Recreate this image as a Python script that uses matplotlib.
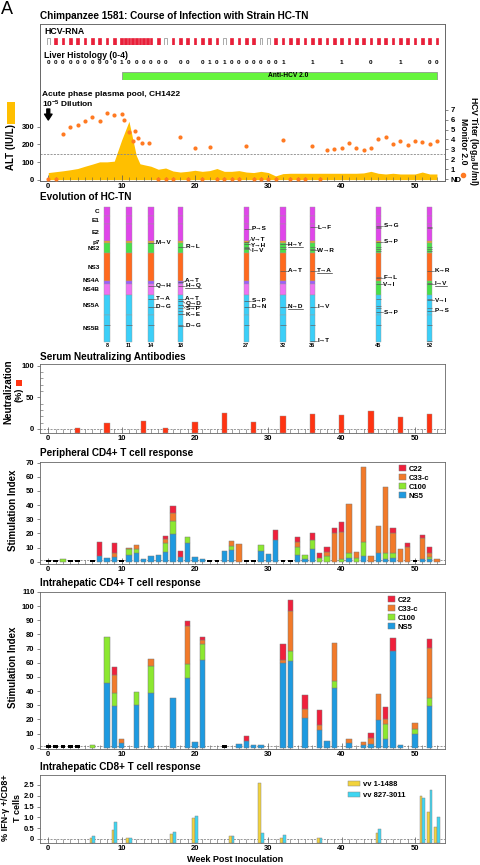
import numpy as np
import matplotlib
matplotlib.use('Agg')
import matplotlib.pyplot as plt
from matplotlib.patches import Rectangle, Patch
from matplotlib.lines import Line2D

plt.rcParams['font.family'] = ['Liberation Sans', 'DejaVu Sans']
plt.rcParams['font.weight'] = 'bold'
plt.rcParams['mathtext.default'] = 'regular'

W, H = 480, 865
fig = plt.figure(figsize=(4.8, 8.65), dpi=100)


def box(x0, y0, x1, y1):
    return [x0 / W, 1 - y1 / H, (x1 - x0) / W, (y1 - y0) / H]


def fx(x):
    return x / W


def fy(y):
    return 1 - y / H


XL = (-1.13, 54.1)

# ---------------- data ----------------
rna_weeks = list(range(0, 10)) + list(np.arange(10, 14.5, 0.5)) + list(range(15, 54))
rna_neg = [0, 16, 24, 29, 30]

hist_weeks = list(range(0, 17)) + [18, 19] + list(range(21, 33)) + [36, 40, 44, 48, 52, 53]
hist_vals = [0, 0, 0, 0, 0, 0, 0, 0, 0, 0, 1, 0, 0, 0, 0, 0, 0,
             0, 0,
             0, 1, 0, 1, 0, 0, 0, 0, 0, 0, 0, 1,
             1, 1, 0, 1, 0, 0]
anti_start, anti_end = 10, 53

alt_weeks = [0, 1, 2, 3, 4, 5, 6, 7, 8, 9, 10, 11, 12, 12.5, 13, 14, 15, 16, 17, 18, 19, 20,
             21, 22, 23, 24, 25, 26, 27, 28, 29, 30, 31, 32, 33, 34, 35, 36, 37, 38, 39, 40,
             41, 42, 43, 44, 45, 46, 47, 48, 49, 50, 51, 52, 53]
alt_vals = [40, 45, 50, 56, 63, 76, 88, 101, 101, 105, 225, 332, 137, 90, 85, 76, 59, 66, 49, 43, 47, 53,
            47, 51, 63, 47, 47, 51, 43, 40, 47, 40, 21, 34, 36, 36, 36, 36, 36, 36, 36, 36,
            36, 36, 38, 47, 36, 32, 36, 32, 32, 32, 43, 32, 32]

titer_weeks = [0, 1, 2, 3, 4, 5, 6, 7, 8, 9, 10, 10.3, 11, 11.5, 11.8, 12.3, 12.8, 13.7,
               15, 16, 17, 18, 19, 20, 21, 22, 23, 24, 25, 26, 27, 28, 29, 30, 31, 32,
               33, 34, 35, 36, 37, 38, 39, 40, 41, 42, 43, 44, 45, 46, 47, 48, 49, 50, 51, 52, 53]
titer_vals = [0, 0, 4.58, 5.3, 5.46, 5.9, 6.3, 5.86, 6.7, 6.5, 6.6, 5.96, 4.72, 3.88, 4.88, 4.18, 3.68, 3.62,
              0, 0, 0, 4.22, 0, 3.11, 0, 3.21, 0, 0, 0, 0, 3.31, 0, 0, 0, 0, 3.95,
              0, 0, 0, 3.31, 0, 2.98, 3.08, 3.15, 3.65, 3.11, 2.98, 3.18, 4.02, 4.22, 3.55, 3.85, 3.45, 3.85, 3.78, 3.58, 3.85]
titer_cutoff = 2.55

genes = ['C', 'E1', 'E2', 'p7', 'NS2', 'NS3', 'NS4A', 'NS4B', 'NS5A', 'NS5B']
gene_start = [1, 192, 384, 747, 810, 1027, 1658, 1712, 1973, 2420]
gene_end = [191, 383, 746, 809, 1026, 1657, 1711, 1972, 2419, 3011]
gene_col = ['#e046ea', '#e046ea', '#e046ea', '#f2a024', '#48e048', '#ff6a1e',
            '#9c5cff', '#ee72f2', '#3ccff8', '#3ccff8']
gene_col_late = ['#e046ea', '#e046ea', '#e046ea', '#f2a024', '#48e048', '#ff6a1e',
                 '#48e048', '#48e048', '#3ccff8', '#3ccff8']
evo_weeks = [8, 11, 14, 18, 27, 32, 36, 45, 52]
ref_mark = 2643

mut_week = [14, 14, 14, 14,
            18, 18, 18, 18, 18, 18, 18, 18,
            27, 27, 27, 27, 27, 27,
            32, 32, 32,
            36, 36, 36, 36, 36,
            45, 45, 45, 45, 45,
            52, 52, 52, 52]
mut_pos = [792, 1763, 2054, 2226,
           882, 1680, 1763, 2054, 2110, 2200, 2400, 2652,
           486, 770, 830, 920, 2099, 2226,
           830, 1420, 2226,
           448, 957, 1420, 2226, 2988,
           412, 777, 1584, 1725, 2352,
           1420, 1718, 2077, 2323]
mut_text_pos = [792, 1763, 2054, 2226,
                882, 1651, 1763, 2054, 2151, 2263, 2397, 2652,
                486, 717, 845, 972, 2099, 2226,
                830, 1420, 2226,
                448, 957, 1420, 2226, 2988,
                412, 777, 1584, 1725, 2352,
                1420, 1718, 2077, 2323]
mut_label = ['M→V', 'Q→H', 'T→A', 'D→G',
             'R→L', 'A→T', 'H→Q', 'A→T', 'Q→D', 'S→P', 'K→E', 'D→G',
             'P→S', 'V→T', 'Y→H', 'I→V', 'S→P', 'D→N',
             'H→Y', 'A→T', 'N→D',
             'L→F', 'W→R', 'T→A', 'I→V', 'I→T',
             'S→G', 'S→P', 'F→L', 'V→I', 'S→P',
             'K→R', 'I→V', 'V→I', 'P→S']
mut_under = [0, 0, 0, 0,
             0, 0, 1, 0, 1, 0, 0, 0,
             0, 0, 0, 0, 0, 0,
             1, 0, 1,
             0, 0, 1, 0, 0,
             0, 0, 0, 0, 0,
             0, 1, 0, 0]
tick_week = [18, 18, 27, 27, 32, 32, 36, 36,
             45, 45, 45, 45, 45, 45, 45, 45, 45,
             52, 52, 52, 52, 52, 52, 52, 52, 52]
tick_pos = [2263, 2323, 882, 934, 882, 934, 882, 934,
            434, 471, 882, 934, 979, 1554, 2054, 2211, 2263,
            434, 471, 882, 934, 979, 1690, 2054, 2263, 2988]

neut_weeks = [4, 8, 13, 16, 20, 24, 28, 32, 36, 40, 44, 48, 52]
neut_vals = [2, 9, 12.7, 2, 11.6, 24.8, 10.5, 20.6, 23.2, 22, 29, 18.5, 23]

periph_weeks = [2, 7, 8, 9, 11, 12, 13, 14, 15, 16, 17, 18, 19, 20, 21, 24, 25, 26, 29, 30,
                31, 34, 35, 36, 37, 38, 39, 40, 41, 42, 43, 44, 45, 46, 47, 48, 49, 51, 52, 53]
periph_ns5 = [0, 4.2, 2.8, 3.5, 4.7, 6.1, 1.9, 4.0, 4.7, 7.1, 19.3, 3.5, 13, 3.5, 1.9, 7.5, 8.2, 0, 7.8, 5.2,
              15.3, 4.7, 1.9, 8.7, 0, 0, 0, 0, 2.8, 0, 4, 0, 5.9, 1.65, 2.8, 0, 0, 1.9, 1.9, 0]
periph_c100 = [2, 0, 0, 0, 4, 2.6, 0, 0, 0, 5.9, 9.7, 0, 4.2, 0, 0, 0, 2.9, 0, 4, 0,
               0, 5.4, 2.8, 6.6, 2.4, 4, 0, 1.9, 3.1, 2.4, 9.7, 0, 0, 4.2, 3.6, 0, 0, 0, 1.6, 0]
periph_c33 = [0, 0, 0, 2.9, 0.7, 3.1, 0, 0, 0, 2.8, 5.2, 0, 0, 0, 0, 0, 3.5, 12.3, 0, 0,
              0, 3.6, 0, 0, 0, 3.1, 20, 19.3, 34.6, 4.7, 53, 4, 19.3, 47.1, 14.1, 8.7, 10.6, 14.6, 2.9, 1.9]
periph_c22 = [0, 10, 0, 6.6, 0, 0, 0, 0, 0, 2.3, 5.2, 4.3, 0, 0, 0, 0, 0, 0, 0, 0,
              7.1, 3.5, 0, 4.7, 3.5, 3.5, 3.6, 6.6, 0, 0, 0, 0, 0, 0, 3.1, 0, 2.8, 2.4, 3.7, 0]
periph_neg = [0, 1, 3, 4, 6, 10, 22, 23, 27, 28, 32, 33, 50]

intra_weeks = [6, 8, 9, 10, 12, 14, 17, 19, 20, 21, 26, 27, 28, 29, 32, 33, 35, 37, 38, 39,
               41, 43, 44, 45, 46, 47, 48, 50, 52]
intra_ns5 = [0, 45.6, 29.2, 3.5, 30.4, 38.8, 35.3, 49.3, 4, 62.1, 2.6, 4.7, 2.1, 1.9, 59.6, 61.4, 21.3, 12.4, 4.7, 42.3,
             3.5, 1.9, 2.6, 19.4, 6.5, 68.5, 1.9, 9.6, 29.2]
intra_c100 = [1.9, 32.9, 9.6, 0, 8.9, 18.7, 0, 9.6, 0, 11, 0, 0, 0, 0, 0, 7, 0, 0, 0, 5.1,
              0, 0, 0, 0, 10.6, 0, 0, 3.3, 6.1]
intra_c33 = [0, 0, 12.6, 2.6, 0, 5.1, 0, 27.1, 0, 3.3, 0, 0, 0, 0, 2.3, 28, 6.3, 3.5, 0, 26.4,
             2.6, 2.3, 4.4, 18.7, 3, 0, 0, 4.6, 34.8]
intra_c22 = [0, 0, 5.8, 0, 0, 0, 0, 3.5, 0, 2.1, 0, 3.7, 0, 0, 11.2, 7.7, 9.8, 10.5, 0, 0,
             0, 0, 3.5, 0, 8.6, 8.8, 0, 0, 6.5]
intra_neg = [0, 1, 2, 3, 4, 24]

cd8_weeks = [6, 9, 11, 17, 20, 25, 29, 32, 37, 45, 51, 52, 53]
cd8_vv1 = [0.06, 0.42, 0.03, 0.22, 0.96, 0.14, 2.58, 0.06, 0.06, 0.29, 1.99, 1.27, 0.57]
cd8_vv2 = [0.14, 0.79, 0.06, 0.32, 1.06, 0.14, 0.26, 0.19, 0.06, 0.46, 1.88, 2.27, 1.0]

ag_names = ['C22', 'C33-c', 'C100', 'NS5']
ag_cols = ['#f0203c', '#f27a2a', '#8ce830', '#1e9ae0']

TS = 5.5  # tick size
EDGE = '#7a7a7a'


def week_axis(ax):
    ax.set_xlim(*XL)
    ax.set_xticks(range(0, 51, 10))
    ax.set_xticks(range(0, 54), minor=True)
    ax.tick_params(axis='x', which='major', direction='in', length=4, width=0.5,
                   labelsize=TS, pad=1.5, color='#555')
    ax.tick_params(axis='x', which='minor', direction='in', length=3, width=0.4, color='#555')
    ax.tick_params(axis='y', which='both', direction='out', length=2.5, width=0.5,
                   labelsize=TS, pad=1.5, color='#555')
    for s in ax.spines.values():
        s.set_color('#666')
        s.set_linewidth(0.6)


def dashed(ax, y):
    ax.axhline(y, color='#888', lw=0.6, ls=(0, (2.5, 1.5)), zorder=0.5)


# ---------------- titles / labels ----------------
fig.text(fx(1), fy(9), 'A', fontsize=13, fontweight='normal', ha='left', va='center')
title_kw = dict(fontsize=7.2, ha='left', va='center')
fig.text(fx(40), fy(16), 'Chimpanzee 1581: Course of Infection with Strain HC-TN', **title_kw)
fig.text(fx(40), fy(197), 'Evolution of HC-TN', **title_kw)
fig.text(fx(40), fy(357), 'Serum Neutralizing Antibodies', **title_kw)
fig.text(fx(40), fy(453), 'Peripheral CD4+ T cell response', **title_kw)
fig.text(fx(40), fy(583), 'Intrahepatic CD4+ T cell response', **title_kw)
fig.text(fx(40), fy(767), 'Intrahepatic CD8+ T cell response', **title_kw)

# ---------------- top box: ALT + titer ----------------
ax_alt = fig.add_axes(box(40, 24, 445, 181))
week_axis(ax_alt)
ax_alt.fill_between(alt_weeks, alt_vals, color='#ffbf00', lw=0, zorder=1)
ax_alt.set_ylim(-8, 886)
ax_alt.set_yticks([0, 100, 200, 300])
ax_alt.spines['top'].set_color('#999')

ax_r = ax_alt.twinx()
ax_r.set_ylim(-0.17, 15.6)
ax_r.scatter(titer_weeks, titer_vals, s=9, color='#ff7a22', linewidths=0, zorder=3, clip_on=False)
dashed(ax_r, titer_cutoff)
ax_r.set_yticks(range(8))
ax_r.set_yticklabels(['ND'] + [str(i) for i in range(1, 8)])
ax_r.tick_params(axis='y', direction='out', length=2.5, width=0.5, labelsize=TS, pad=1.5, color='#555')
for s in ax_r.spines.values():
    s.set_color('#666')
    s.set_linewidth(0.6)

fig.text(fx(42), fy(94), 'Acute phase plasma pool, CH1422', fontsize=6, ha='left', va='center')
fig.text(fx(42), fy(104), '10$^{-5}$ Dilution', fontsize=6, ha='left', va='center')
ax_alt.annotate('', xy=(0, fy(120)), xytext=(0, fy(109)), xycoords=('data', 'figure fraction'),
                textcoords=('data', 'figure fraction'),
                arrowprops=dict(arrowstyle='simple,head_width=0.9,head_length=0.7,tail_width=0.35',
                                color='k', mutation_scale=6, shrinkA=0, shrinkB=0))

fig.text(fx(11), fy(147), 'ALT (IU/L)', rotation=90, fontsize=7, ha='center', va='center')
fig.add_artist(Rectangle((fx(7), fy(124)), 8 / W, 22 / H, transform=fig.transFigure,
                         color='#ffbf00', lw=0))
fig.text(fx(473.5), fy(141), 'HCV Titer (log$_{10}$IU/ml)', rotation=270, fontsize=6.2,
         ha='center', va='center')
fig.text(fx(463.5), fy(141), 'Monitor 2.0', rotation=270, fontsize=6.2, ha='center', va='center')
fig.add_artist(Line2D([fx(463)], [fy(175)], marker='o', ms=3, color='#ff7a22', lw=0,
                      transform=fig.transFigure))

# HCV RNA row
ax_rna = fig.add_axes(box(40, 37.5, 445, 44.5))
ax_rna.axis('off')
ax_rna.set_xlim(*XL)
ax_rna.set_ylim(0, 1)
rna_face = ['white' if w in rna_neg else '#e8203a' for w in rna_weeks]
rna_edge = ['#888' if w in rna_neg else '#e8203a' for w in rna_weeks]
ax_rna.bar(rna_weeks, 1, width=0.38, bottom=0, color=rna_face, edgecolor=rna_edge, lw=0.5)
fig.text(fx(44), fy(32), 'HCV-RNA', fontsize=6.3, ha='left', va='center')
fig.text(fx(44), fy(55), 'Liver Histology (0-4)', fontsize=6.2, ha='left', va='center')

ax_hist = fig.add_axes(box(40, 59, 445, 67))
ax_hist.axis('off')
ax_hist.set_xlim(*XL)
ax_hist.set_ylim(0, 1)
for w, v in zip(hist_weeks, hist_vals):
    ax_hist.text(w, 0.5, str(v), ha='center', va='center', fontsize=4.6)

ax_anti = fig.add_axes(box(40, 71.7, 445, 80))
ax_anti.axis('off')
ax_anti.set_xlim(*XL)
ax_anti.set_ylim(0, 1)
ax_anti.barh(0.5, anti_end - anti_start, left=anti_start, height=1, color='#66f53c',
             edgecolor='#888', lw=0.5)
ax_anti.text((anti_start + anti_end) / 2 + 1.2, 0.5, 'Anti-HCV 2.0', ha='center', va='center',
             fontsize=4.8)

# ---------------- evolution ----------------
ax_e = fig.add_axes(box(40, 198, 445, 350))
ax_e.axis('off')
ax_e.set_xlim(*XL)
ax_e.set_ylim(3197, -208)
gs = np.array(gene_start)
ge = np.array(gene_end)
BW = 0.72
for w in evo_weeks:
    cols = gene_col_late if w >= 45 else gene_col
    ax_e.bar([w] * len(genes), ge - gs + 1, bottom=gs - 1, width=BW, color=cols,
             edgecolor='#9a9a9a', lw=0.3)
    ax_e.hlines(ref_mark, w - BW / 2, w + BW / 2, color='#666', lw=0.5)
    ax_e.text(w, 3107, str(w), ha='center', va='center', fontsize=4)
for g, s, e in zip(genes, gene_start, gene_end):
    mid = (s + e) / 2
    if g == 'NS4A':
        mid -= 40
    ax_e.text(7.0, mid, g, ha='right', va='center', fontsize=4.6)
for w, p in zip(tick_week, tick_pos):
    ax_e.hlines(p, w - BW / 2, w + BW / 2, color='#666', lw=0.5)
under_texts = []
for w, p, tp, lab, u in zip(mut_week, mut_pos, mut_text_pos, mut_label, mut_under):
    ax_e.hlines(p, w - BW / 2, w + BW / 2, color='#555', lw=0.5)
    x0 = w + BW / 2
    ax_e.plot([x0, x0 + 0.3], [p, tp], color='#444', lw=0.4)
    t = ax_e.text(x0 + 0.33, tp, lab, ha='left', va='center', fontsize=4.6)
    if u:
        under_texts.append(t)

# ---------------- neutralization ----------------
NEUT_LO = -6
ax_n = fig.add_axes(box(40, 364.5, 445, 432.7))
week_axis(ax_n)
ax_n.set_ylim(NEUT_LO, 102)
dashed(ax_n, 0)
ax_n.bar(neut_weeks, np.array(neut_vals) - NEUT_LO, bottom=NEUT_LO, width=0.7,
         color='#ff3412', edgecolor='#999', lw=0.3, zorder=2)
ax_n.set_yticks([0, 50, 100])
ax_n.set_yticks(range(0, 101, 10), minor=True)
ax_n.tick_params(axis='y', which='minor', direction='in', length=2, width=0.4)
fig.text(fx(8), fy(392), 'Neutralization', rotation=90, fontsize=7, ha='center', va='center')
fig.text(fx(19), fy(395), '(%)', rotation=90, fontsize=6.5, ha='center', va='center')
fig.add_artist(Rectangle((fx(15.5), fy(385.5)), 6 / W, 6 / H, transform=fig.transFigure,
                         color='#ff3412', lw=0))


# ---------------- stacked T-cell panels ----------------
def stacked(ax, weeks, ns5, c100, c33, c22, neg, neg_h):
    layers = [ns5, c100, c33, c22]
    cols = ag_cols[::-1]
    bottom = np.zeros(len(weeks))
    for vals, c in zip(layers, cols):
        v = np.array(vals, dtype=float)
        m = v > 0
        ax.bar(np.array(weeks)[m], v[m], bottom=bottom[m], width=0.7, color=c,
               edgecolor=EDGE, lw=0.35, zorder=2)
        bottom += v
    ax.bar(neg, neg_h, bottom=0, width=0.62, color='k', lw=0, zorder=2)


ax_p = fig.add_axes(box(40, 461.7, 445, 564.3))
week_axis(ax_p)
ax_p.set_ylim(-1.8, 70.7)
ax_p.set_yticks(range(0, 71, 10))
dashed(ax_p, 1)
stacked(ax_p, periph_weeks, periph_ns5, periph_c100, periph_c33, periph_c22, periph_neg, 1.3)
fig.text(fx(13), fy(510), 'Stimulation Index', rotation=90, fontsize=7, ha='center', va='center')

ax_i = fig.add_axes(box(40, 592, 445, 749.3))
week_axis(ax_i)
ax_i.set_ylim(-1.1, 109.5)
ax_i.set_yticks(range(0, 111, 10))
dashed(ax_i, 1.5)
stacked(ax_i, intra_weeks, intra_ns5, intra_c100, intra_c33, intra_c22, intra_neg, 2.0)
fig.text(fx(13), fy(667), 'Stimulation Index', rotation=90, fontsize=7, ha='center', va='center')

handles = [Patch(facecolor=c, edgecolor=EDGE, lw=0.35) for c in ag_cols]
leg_kw = dict(frameon=False, fontsize=5.5, handlelength=0.9, handleheight=0.8,
              handletextpad=0.4, labelspacing=0.2, borderpad=0, borderaxespad=0,
              loc='upper left', bbox_transform=fig.transFigure)
ax_p.legend(handles, ag_names, bbox_to_anchor=(fx(399), fy(465)), **leg_kw)
ax_i.legend(handles, ag_names, bbox_to_anchor=(fx(388), fy(596)), **leg_kw)

# ---------------- CD8 ----------------
CD8_LO = -0.2
ax_c = fig.add_axes(box(40, 775, 445, 843.3))
week_axis(ax_c)
ax_c.set_ylim(CD8_LO, 2.96)
ax_c.set_yticks([0, 0.5, 1, 1.5, 2, 2.5])
ax_c.set_yticklabels(['0', '0.5', '1.0', '1.5', '2.0', '2.5'])
dashed(ax_c, 0)
cw = np.array(cd8_weeks, dtype=float)
ax_c.bar(cw - 0.17, np.array(cd8_vv1) - CD8_LO, bottom=CD8_LO, width=0.34, color='#f2d33c',
         edgecolor='#888', lw=0.35, zorder=2, label='vv 1-1488')
ax_c.bar(cw + 0.19, np.array(cd8_vv2) - CD8_LO, bottom=CD8_LO, width=0.34, color='#3ed6f2',
         edgecolor='#888', lw=0.35, zorder=2, label='vv 827-3011')
ax_c.legend(frameon=False, fontsize=5.5, handlelength=1.6, handleheight=0.6, handletextpad=0.4,
            labelspacing=0.5, borderpad=0, borderaxespad=0, loc='upper left',
            bbox_to_anchor=(fx(348), fy(781)), bbox_transform=fig.transFigure)
fig.text(fx(6), fy(808), '% IFN-γ +/CD8+', rotation=90, fontsize=6.5, ha='center', va='center')
fig.text(fx(18), fy(808), 'T cells', rotation=90, fontsize=6.5, ha='center', va='center')
fig.text(fx(235), fy(860), 'Week Post Inoculation', fontsize=6.5, ha='center', va='center')

# underline some mutation labels
fig.canvas.draw()
rend = fig.canvas.get_renderer()
inv = fig.transFigure.inverted()
for t in under_texts:
    bb = t.get_window_extent(rend).transformed(inv)
    fig.add_artist(Line2D([bb.x0, bb.x1], [bb.y0 + 0.3 / H, bb.y0 + 0.3 / H], lw=0.4,
                          color='k', transform=fig.transFigure))

fig.savefig('out.png', dpi=100)
